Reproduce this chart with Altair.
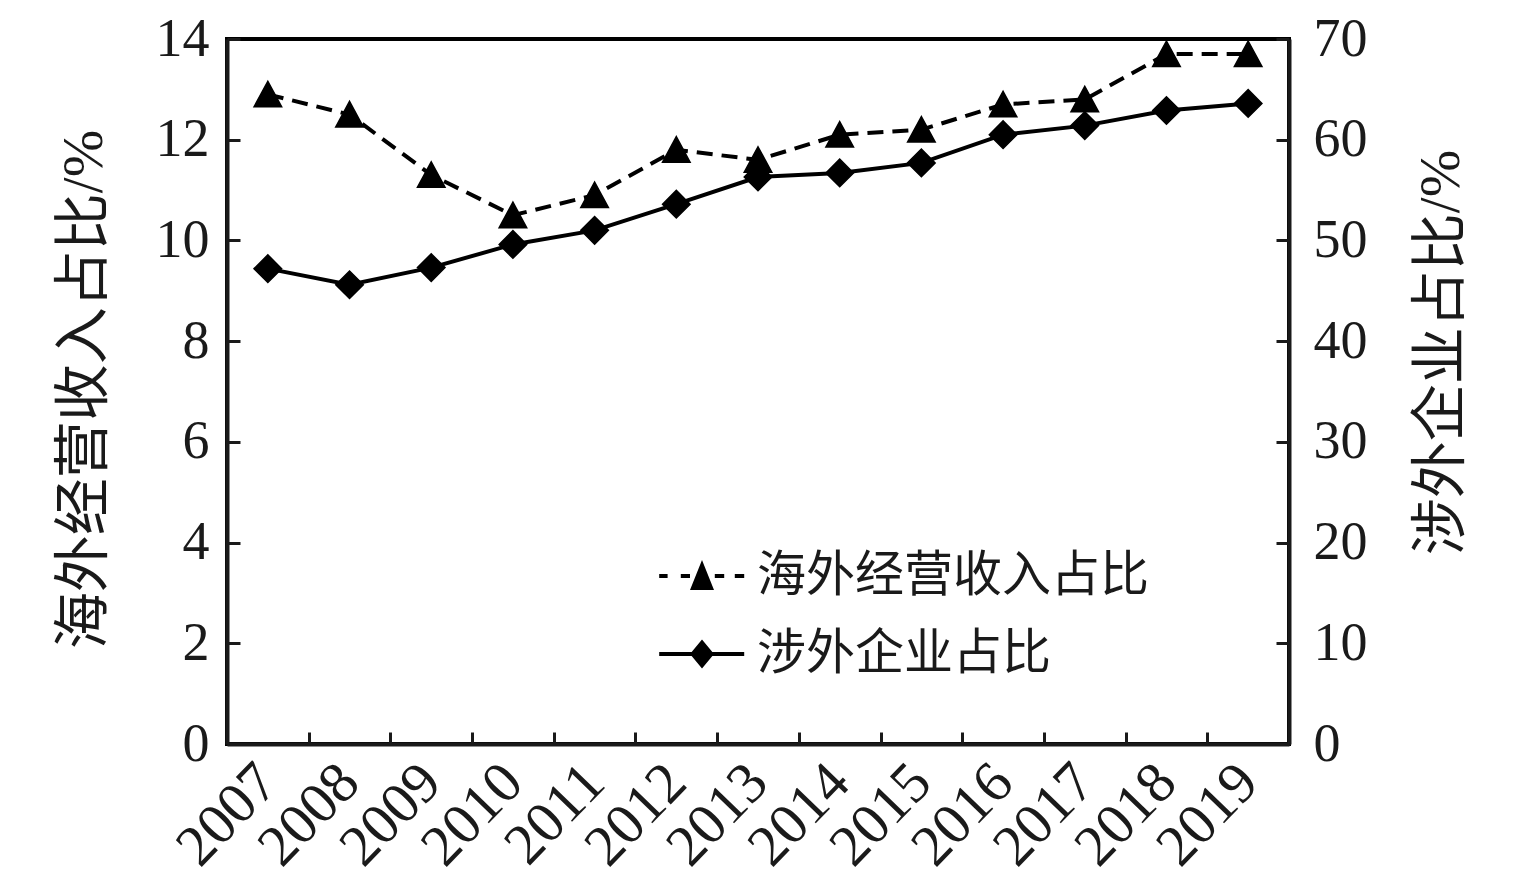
import altair as alt
import pandas as pd

# ---- data ----
years = ["2007", "2008", "2009", "2010", "2011", "2012", "2013",
         "2014", "2015", "2016", "2017", "2018", "2019"]
overseas_revenue_share = [12.9, 12.5, 11.3, 10.5, 10.9, 11.8, 11.6,
                          12.1, 12.2, 12.7, 12.8, 13.7, 13.7]
foreign_firm_share = [47.2, 45.6, 47.3, 49.6, 51.0, 53.6, 56.3,
                      56.7, 57.7, 60.5, 61.4, 62.9, 63.6]
left_ticks = [0, 2, 4, 6, 8, 10, 12, 14]
right_ticks = [0, 10, 20, 30, 40, 50, 60, 70]
series_names = ["海外经营收入占比", "涉外企业占比"]
left_title = "海外经营收入占比/%"
right_title = "涉外企业占比/%"

df = pd.DataFrame({"year": years, "rev": overseas_revenue_share, "firm": foreign_firm_share})

NUM_FONT = "Liberation Serif"
CJK_FONT = "Liberation Serif, Noto Sans CJK SC"
INK = "#1a1a1a"
W, H = 1062, 705
TOP = 31

tri_path = "M0,-0.95L1,0.9L-1,0.9Z"
h = 0.05
legend_tri = (f"M-1.07,-{h}H-0.86V{h}H-1.07Z"
              f"M-0.53,-{h}H-0.3V{h}H-0.53Z"
              f"M0.32,-{h}H0.555V{h}H0.32Z"
              f"M0.82,-{h}H1.055V{h}H0.82Z"
              "M0,-0.4L0.3,0.35L-0.3,0.35Z")
legend_dia = (f"M-1.07,-{h}H1.055V{h}H-1.07Z"
              "M-0.3,0L0,-0.36L0.3,0L0,0.36Z")

x_enc = alt.X("year:O", sort=years, title=None,
              scale=alt.Scale(paddingInner=0, paddingOuter=0),
              axis=alt.Axis(tickBand="extent", tickSize=alt.ExprRef("-12"),
                            tickWidth=3, tickColor=INK,
                            domainColor=INK, domainWidth=4,
                            labelAngle=-46, labelAlign="right", labelBaseline="middle",
                            labelFont=NUM_FONT, labelFontSize=58, labelColor=INK,
                            labelPadding=41, grid=False))

y_left = alt.Y("rev:Q", title=left_title,
               scale=alt.Scale(domain=[0, 14], nice=False),
               axis=alt.Axis(orient="left", values=left_ticks, grid=False,
                             tickSize=alt.ExprRef("-13"), tickWidth=3, tickColor=INK,
                             domainColor=INK, domainWidth=4,
                             labelFont=NUM_FONT, labelFontSize=54, labelColor=INK,
                             labelPadding=31,
                             titleFont=CJK_FONT, titleFontSize=57, titleFontWeight="normal",
                             titleColor=INK, titleAngle=270, titleX=-143, titleY=350,
                             titleAlign="center", titleBaseline="middle"))

y_right = alt.Y("firm:Q", title=right_title,
                scale=alt.Scale(domain=[0, 70], nice=False),
                axis=alt.Axis(orient="right", values=right_ticks, grid=False,
                              tickSize=alt.ExprRef("-13"), tickWidth=3, tickColor=INK,
                              domainColor=INK, domainWidth=4,
                              labelFont=NUM_FONT, labelFontSize=54, labelColor=INK,
                              labelPadding=37,
                              titleFont=CJK_FONT, titleFontSize=57, titleFontWeight="normal",
                              titleColor=INK, titleAngle=270, titleX=152, titleY=313,
                              titleAlign="center", titleBaseline="middle"))

base = alt.Chart(df)

rev_line = base.mark_line(color="black", strokeWidth=4, strokeDash=[16, 9]).encode(x=x_enc, y=y_left)
rev_pts = base.mark_point(shape=tri_path, filled=True, fill="black", stroke="black",
                          strokeWidth=1.5, size=760, opacity=1).encode(x=x_enc, y=y_left)
firm_line = base.mark_line(color="black", strokeWidth=4).encode(x=x_enc, y=y_right)
firm_pts = base.mark_point(shape="diamond", filled=True, fill="black", stroke="black",
                           strokeWidth=1.5, size=760, opacity=1).encode(x=x_enc, y=y_right)

legend_layer = base.transform_filter("false").mark_point(
    filled=True, color="black"
).encode(
    shape=alt.Shape("series:N",
                    scale=alt.Scale(domain=series_names, range=[legend_tri, legend_dia]),
                    legend=alt.Legend(orient="none", legendX=435, legendY=497,
                                      title=None, symbolSize=6400,
                                      symbolFillColor="black", symbolOpacity=1,
                                      symbolStrokeWidth=0,
                                      labelFont=CJK_FONT, labelFontSize=49, labelColor=INK,
                                      labelOffset=15, rowPadding=13, padding=0,
                                      labelLimit=0))
)

chart = alt.layer(
    alt.layer(rev_line, rev_pts),
    alt.layer(firm_line, firm_pts),
    legend_layer,
).resolve_scale(y="independent").properties(
    width=W, height=H,
    autosize=alt.AutoSizeParams(type="none"),
    padding={"left": 219, "top": TOP, "right": 230, "bottom": 135},
    background="white",
).configure_view(stroke="black", strokeWidth=4)

chart.save("out.html", embed_options={"renderer": "svg", "actions": False})
